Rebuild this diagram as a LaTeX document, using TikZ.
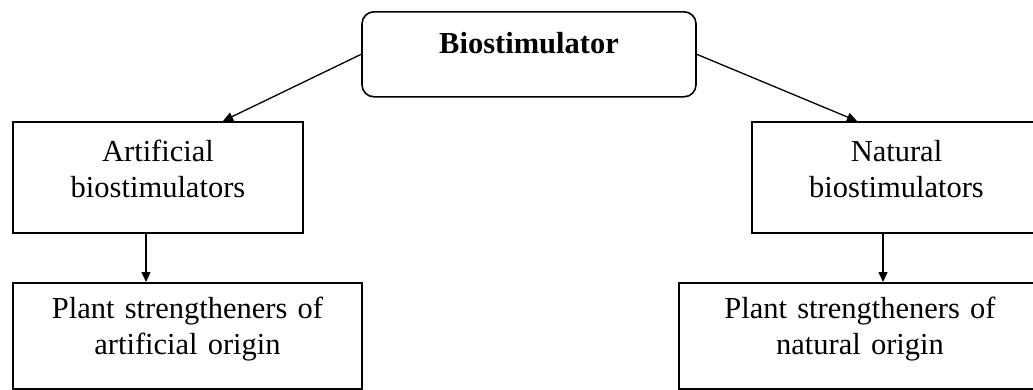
\documentclass[tikz,border=0pt]{standalone}
\usepackage{fontspec}
\setmainfont{Liberation Serif}
\usetikzlibrary{arrows.meta,calc}
\begin{document}
\begin{tikzpicture}[x=1pt,y=-1pt,
  box/.style={draw=black, line width=1.6pt, inner xsep=0pt, inner ysep=0pt,
    align=center, font=\fontsize{30.5}{36}\selectfont, anchor=north},
  conn/.style={line width=1.3pt, -{Triangle[length=10pt,width=9pt]}}]
\useasboundingbox (0,0) rectangle (1033,389);
\clip (0,0) rectangle (1033,389);
\node[box, rounded corners=12pt, text width=334pt, text height=42pt, text depth=43pt,
  font=\fontsize{30.5}{36}\selectfont\bfseries] (root) at (529,11) {Biostimulator};
\node[box, text width=290pt, text height=40pt, text depth=71pt] (art) at (158,121)
  {Artificial\\biostimulators};
\node[box, text width=289pt, text height=40pt, text depth=71pt] (nat) at (896.5,121)
  {Natural\\biostimulators};
\node[box, text width=349pt, text height=36pt, text depth=70pt] (pa) at (187.5,282)
  {Plant strengtheners of\\artificial origin};
\node[box, text width=362pt, text height=36pt, text depth=70pt] (pn) at (860,282)
  {Plant strengtheners of\\natural origin};
\draw[conn] (root.west) -- ([xshift=65pt]art.north);
\draw[conn] (root.east) -- ([xshift=-39.5pt]nat.north);
\coordinate (a1) at ([xshift=-12pt]art.south);
\coordinate (n1) at ([xshift=-13.5pt]nat.south);
\draw[conn] (a1) -- (a1 |- pa.north);
\draw[conn] (n1) -- (n1 |- pn.north);
\end{tikzpicture}
\end{document}
